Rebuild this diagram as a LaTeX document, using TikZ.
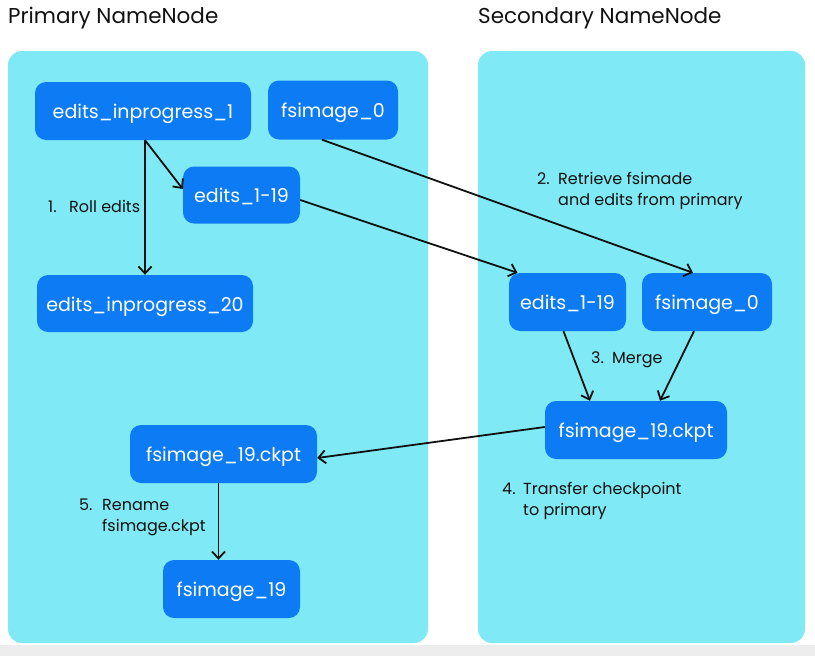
\documentclass[tikz,border=0pt]{standalone}
\usepackage{fontspec}
\setmainfont{Poppins}
\usetikzlibrary{arrows.meta}
\definecolor{panelc}{HTML}{7FEAF5}
\definecolor{boxc}{HTML}{0D7BF3}
\definecolor{bandc}{HTML}{EDEDED}
\definecolor{inkc}{HTML}{111111}
\newcommand\numcol[1]{\makebox[21pt][l]{#1}}
\begin{document}
\begin{tikzpicture}[x=1pt,y=-1pt,
  box/.style={fill=boxc, rounded corners=11pt, text=white, font=\fontsize{19}{22}\selectfont, inner sep=0pt, text height=15.5pt, text depth=0pt, anchor=center},
  lbl/.style={font=\fontsize{16}{21}\selectfont, text=inkc, align=left, anchor=west, inner sep=0pt},
  ttl/.style={font=\fontsize{21.5}{24}\selectfont, text=inkc, anchor=west, inner sep=0pt},
  arr/.style={-{Straight Barb[length=7pt,width=13pt]}, line width=1.8pt, draw=inkc},
  panel/.style={fill=panelc, rounded corners=14pt}]
\useasboundingbox (0,0) rectangle (815,656);
\fill[bandc] (0,645) rectangle (815,656);
\fill[panel] (8,51) rectangle (428,643);
\fill[panel] (478,51) rectangle (805,643);
\node[ttl] (t1) at (8,18) {Primary NameNode};
\node[ttl] (t2) at (478,18) {Secondary NameNode};
\node[box, minimum width=216pt, minimum height=58pt] (eip1) at (143,111) {edits\_inprogress\_1};
\node[box, minimum width=130pt, minimum height=59pt] (fs0L) at (333,110) {fsimage\_0};
\node[box, minimum width=117pt, minimum height=57pt] (e19L) at (241.5,195) {edits\_1-19};
\node[box, minimum width=216pt, minimum height=57pt] (eip20) at (145,303.5) {edits\_inprogress\_20};
\node[box, minimum width=117pt, minimum height=58pt] (e19R) at (567.5,302) {edits\_1-19};
\node[box, minimum width=130pt, minimum height=58pt] (fs0R) at (707,302) {fsimage\_0};
\node[box, minimum width=182pt, minimum height=58pt] (ckR) at (636,430) {fsimage\_19.ckpt};
\node[box, minimum width=187pt, minimum height=58pt] (ckL) at (223.5,454) {fsimage\_19.ckpt};
\node[box, minimum width=137pt, minimum height=58pt] (f19) at (231.5,589) {fsimage\_19};
\draw[arr] (eip20.north |- eip1.south) -- (eip20.north);
\draw[arr] (eip20.north |- eip1.south) -- ([yshift=6pt]e19L.west);
\draw[arr] ([xshift=-11pt]fs0L.south) -- ([xshift=-14pt]fs0R.north);
\draw[arr] ([yshift=-5pt]e19L.east) -- ([xshift=-50pt]e19R.north);
\draw[arr] ([xshift=-4pt]e19R.south) -- ([xshift=-46pt]ckR.north);
\draw[arr] ([xshift=-13pt]fs0R.south) -- ([xshift=24pt]ckR.north);
\draw[arr] ([yshift=3pt]ckR.west) -- ([yshift=-4pt]ckL.east);
\draw[arr] ([xshift=-5pt]ckL.south) -- ([xshift=-13pt]f19.north);
\node[lbl] (l1) at (48,206) {\numcol{1.}Roll edits};
\node[lbl] (l2) at (537,190.5) {\begin{tabular}{@{}l@{}l@{}}\numcol{2.} & Retrieve fsimade\\ & and edits from primary\end{tabular}};
\node[lbl] (l3) at (591,360) {\numcol{3.}Merge};
\node[lbl] (l4) at (502,501) {\begin{tabular}{@{}l@{}l@{}}\numcol{4.} & Transfer checkpoint\\ & to primary\end{tabular}};
\node[lbl] (l5) at (79,517) {\begin{tabular}{@{}l@{}l@{}}\makebox[23pt][l]{5.} & Rename\\ & fsimage.ckpt\end{tabular}};
\end{tikzpicture}
\end{document}
